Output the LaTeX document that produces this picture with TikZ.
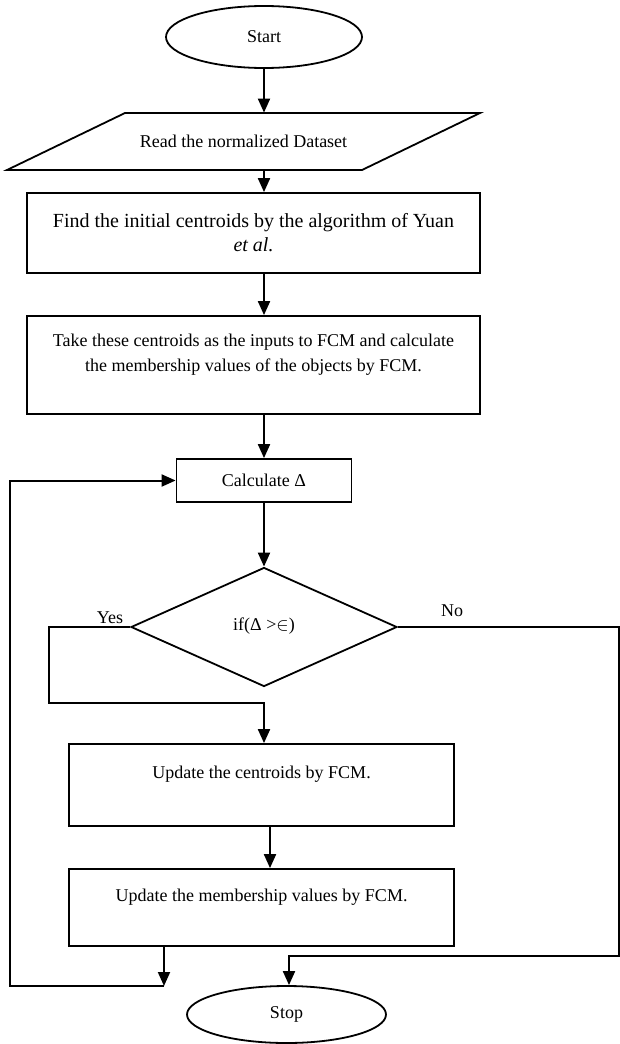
\documentclass[tikz,border=0pt]{standalone}
\usepackage{fontspec}
\setmainfont{Liberation Serif}
\usetikzlibrary{shapes.geometric,arrows.meta}
\begin{document}
\begin{tikzpicture}[x=0.5pt,y=-0.5pt,
  font=\fontsize{9}{12.5}\selectfont,
  shape line/.style={draw, line width=0.9pt, inner sep=0pt},
  procbox/.style={shape line, rectangle, align=center},
  terminal/.style={shape line, ellipse},
  arr/.style={line width=1pt, -{Triangle[width=6pt,length=7pt]}}]
\useasboundingbox (0,0) rectangle (620,1044);

% terminals and process steps
\node[terminal, minimum width=98pt, minimum height=31pt] (start) at (264,37) {Start};

% data input (parallelogram)
\draw[line width=0.9pt] (125,113) -- (480,113) -- (362,170) -- (7,170) -- cycle;
\node[inner sep=0pt, minimum width=118pt, minimum height=28.5pt] (read) at (243.5,141.5) {Read the normalized Dataset};

\node[procbox, minimum width=226.5pt, minimum height=40pt, font=\fontsize{10}{12}\selectfont] (init) at (253.5,233)
  {Find the initial centroids by the algorithm of Yuan\\ \textit{et al.}};

\node[procbox, minimum width=226.5pt, minimum height=49pt] (fcm) at (253.5,365)
  {Take these centroids as the inputs to FCM and calculate\\ the membership values of the objects by FCM.\\ \mbox{}};

\node[procbox, minimum width=87.5pt, minimum height=21.5pt] (calc) at (264,480.5) {Calculate Δ};

\node[shape line, diamond, minimum width=133pt, minimum height=59.5pt] (dec) at (264,627) {\raisebox{3pt}{if(Δ >$\in$)}};

\node[procbox, minimum width=192.5pt, minimum height=41pt] (updc) at (261.5,785)
  {Update the centroids by FCM.\\ \mbox{}};

\node[procbox, minimum width=192.5pt, minimum height=38.5pt] (updm) at (261.5,907.5)
  {Update the membership values by FCM.\\ \mbox{}};

\node[terminal, minimum width=99.5pt, minimum height=28.5pt] (stop) at (286.5,1014.5) {Stop};

% branch labels
\node (yes) at (110,618) {Yes};
\node (no) at (452,611) {No};

% routing points
\coordinate (yesL) at (49,627);
\coordinate (yesJ) at (264,703);
\coordinate (b34) at (270,0);
\coordinate (loopT) at (164,986);
\coordinate (loopL) at (10,986);
\coordinate (noR) at (619,627);
\coordinate (noJ) at (289,956);

% connectors
\draw[arr] (start.south) -- (start.south |- read.north);
\draw[arr] (start.south |- read.south) -- (start.south |- init.north);
\draw[arr] (start.south |- init.south) -- (start.south |- fcm.north);
\draw[arr] (calc.north |- fcm.south) -- (calc.north);
\draw[arr] (calc.south) -- (dec.north);
\draw[arr] (dec.west) -- (yesL) |- (yesJ) -- (yesJ |- updc.north);
\draw[arr] (b34 |- updc.south) -- (b34 |- updm.north);
\draw[arr] (loopT |- updm.south) -- (loopT);
\draw[arr] (loopT) -- (loopL) |- (calc.west);
\draw[arr] (dec.east) -- (noR) |- (noJ) -- (noJ |- stop.north);
\end{tikzpicture}
\end{document}
